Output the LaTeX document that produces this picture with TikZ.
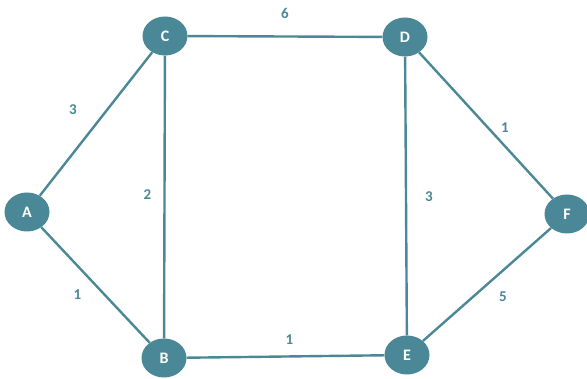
\documentclass[tikz,border=0pt]{standalone}
\usepackage{fontspec}
\setmainfont{Carlito}
\usepackage{xcolor}
\usetikzlibrary{shapes.geometric}
\definecolor{teal}{HTML}{4B8897}
\tikzset{
  vert/.style={ellipse, fill=teal, draw=none, minimum width=45pt, minimum height=39pt,
               inner sep=0pt, text=white, font=\fontsize{16}{16}\selectfont\bfseries},
  wt/.style={draw=teal, line width=2.4pt},
  lbl/.style={font=\fontsize{15}{15}\selectfont\bfseries, text=teal, inner sep=0pt}
}

\begin{document}
\begin{tikzpicture}[x=1pt, y=-1pt]
  \useasboundingbox (0,0) rectangle (587,379);
  \node[vert] (A) at (27,212) {A};
  \node[vert] (C) at (165,36) {C};
  \node[vert] (D) at (405,37) {D};
  \node[vert] (F) at (567,214) {F};
  \node[vert] (B) at (164,358) {B};
  \node[vert] (E) at (407,355) {E};
  \draw[wt] (A) -- node[lbl, xshift=-23pt, yshift=14pt] {3} (C);
  \draw[wt] (C) -- node[lbl, yshift=23pt] {6} (D);
  \draw[wt] (C) -- node[lbl, xshift=-17pt, yshift=2pt] {2} (B);
  \draw[wt] (D) -- node[lbl, xshift=23pt, yshift=-1pt] {3} (E);
  \draw[wt] (D) -- node[lbl, xshift=19pt, yshift=-2pt] {1} (F);
  \draw[wt] (F) -- node[lbl, xshift=16pt, yshift=-12pt] {5} (E);
  \draw[wt] (B) -- node[lbl, xshift=4pt, yshift=17pt] {1} (E);
  \draw[wt] (A) -- node[lbl, xshift=-18pt, yshift=-10pt] {1} (B);
\end{tikzpicture}
\end{document}
